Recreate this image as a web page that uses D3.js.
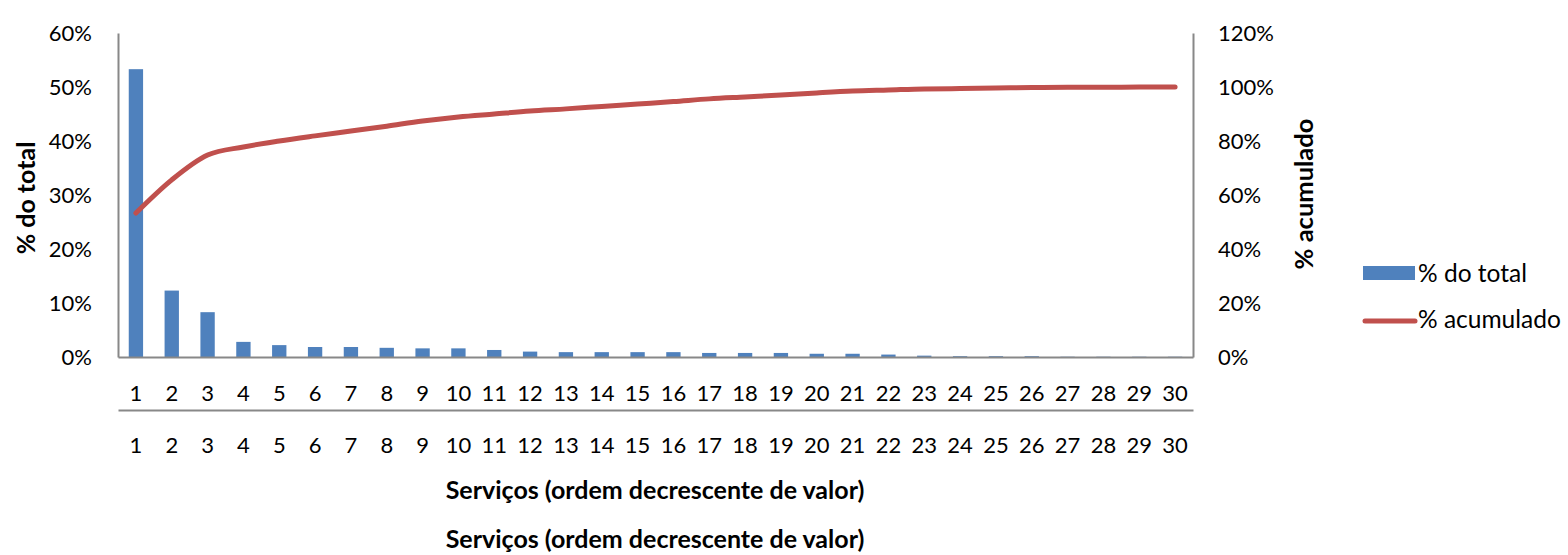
<!DOCTYPE html>
<html><head><meta charset="utf-8">
<script src="https://cdn.jsdelivr.net/npm/d3@7"></script>
<style>
body{margin:0;background:#fff;}
text{font-family:Lato,"Open Sans",sans-serif;fill:#000;}
</style></head>
<body><svg id="c" width="1568" height="555"></svg>
<script>
const categories = d3.range(1,31).map(String);
const pctTotal = [53.3,12.3,8.3,2.8,2.2,1.85,1.85,1.7,1.6,1.6,1.3,1.0,0.9,0.9,0.9,0.9,0.75,0.75,0.75,0.6,0.6,0.45,0.25,0.15,0.15,0.15,0.05,0.05,0.05,0.05];
const pctCumul = [53.3,65.6,74.8,77.8,80.0,81.9,83.7,85.5,87.4,88.9,90.0,91.1,91.9,92.8,93.7,94.6,95.6,96.3,97.0,97.8,98.5,98.9,99.3,99.4,99.6,99.8,99.9,99.9,100,100];
const leftTicks = [0,10,20,30,40,50,60];
const rightTicks = [0,20,40,60,80,100,120];
const xTitle = "Serviços (ordem decrescente de valor)";

const svg = d3.select("#c");
const L=118,R=1193,T=33,B=357;
const x = d3.scaleBand().domain(categories).range([L,R]).paddingInner(0.6).paddingOuter(0.3);
const yL = d3.scaleLinear().domain([0,60]).range([B,T]);
const yR = d3.scaleLinear().domain([0,120]).range([B,T]);
const axisColor="#888";

// bars
svg.append("g").selectAll("rect").data(pctTotal).join("rect")
  .attr("x",(d,i)=>x(categories[i])).attr("width",x.bandwidth())
  .attr("y",d=>yL(d)).attr("height",d=>B-yL(d)).attr("fill","#4F81BD");

// axes
const gL = svg.append("g").attr("transform",`translate(${L},0)`)
  .call(d3.axisLeft(yL).tickValues(leftTicks).tickSize(0).tickPadding(26).tickFormat(d=>d+"%"));
const gR = svg.append("g").attr("transform",`translate(${R},0)`)
  .call(d3.axisRight(yR).tickValues(rightTicks).tickSize(0).tickPadding(25).tickFormat(d=>d+"%"));
const gB = svg.append("g").attr("transform",`translate(0,${B})`)
  .call(d3.axisBottom(x).tickSize(0).tickPadding(44));
const gB2 = svg.append("g").attr("transform",`translate(0,410)`)
  .call(d3.axisBottom(x).tickSize(0).tickPadding(43));
[gL,gR,gB,gB2].forEach(g=>{
  g.selectAll(".domain").attr("stroke",axisColor).attr("stroke-width",2);
  g.selectAll("text").attr("font-size",22).attr("font-family","Lato");
});
gB.selectAll("text").attr("dy","0");
gB2.selectAll("text").attr("dy","0");

// line
const line = d3.line().x((d,i)=>x(categories[i])+x.bandwidth()/2).y(d=>yR(d)).curve(d3.curveMonotoneX);
svg.append("path").datum(pctCumul).attr("d",line).attr("fill","none")
  .attr("stroke","#C0504D").attr("stroke-width",5).attr("stroke-linecap","round");

// titles
svg.append("text").attr("transform","translate(35,198) rotate(-90)").attr("text-anchor","middle")
  .attr("font-size",25).attr("font-weight","bold").text("% do total");
svg.append("text").attr("transform","translate(1313,194) rotate(-90)").attr("text-anchor","middle")
  .attr("font-size",25.5).attr("font-weight","bold").text("% acumulado");
svg.append("text").attr("x",655).attr("y",499).attr("text-anchor","middle")
  .attr("font-size",25).attr("font-weight","bold").text(xTitle);
svg.append("text").attr("x",655).attr("y",548).attr("text-anchor","middle")
  .attr("font-size",25).attr("font-weight","bold").text(xTitle);

// legend
svg.append("rect").attr("x",1363).attr("y",266).attr("width",52).attr("height",14).attr("fill","#4F81BD");
svg.append("text").attr("x",1418).attr("y",282).attr("font-size",24.5).text("% do total");
svg.append("line").attr("x1",1365).attr("x2",1415).attr("y1",321).attr("y2",321)
  .attr("stroke","#C0504D").attr("stroke-width",5).attr("stroke-linecap","round");
svg.append("text").attr("x",1418).attr("y",328).attr("font-size",24.5).text("% acumulado");
</script></body></html>
